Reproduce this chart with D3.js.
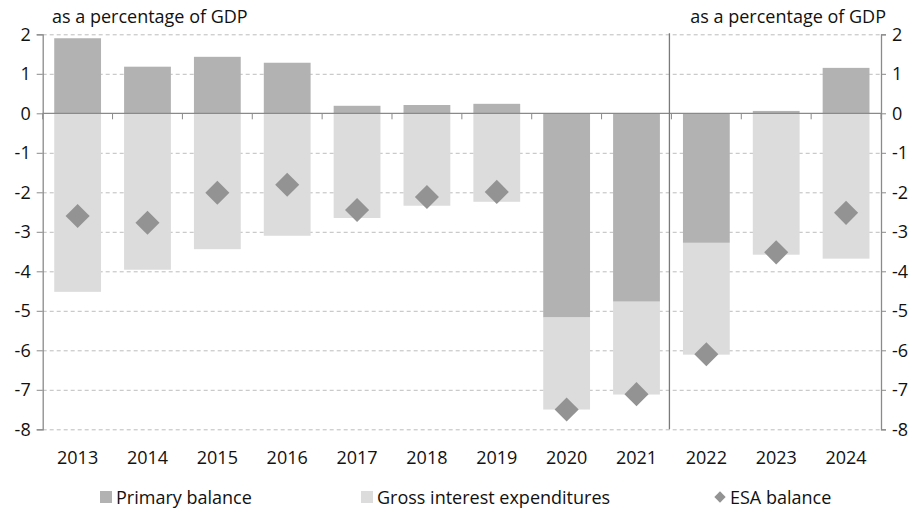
<!DOCTYPE html>
<html>
<head>
<meta charset="utf-8">
<script src="https://cdn.jsdelivr.net/npm/d3@7"></script>
<style>
  html, body { margin: 0; padding: 0; background: #fff; }
  svg { display: block; font-family: "Open Sans", sans-serif; }
</style>
</head>
<body>
<svg id="chart" width="918" height="513"></svg>
<script>
// Budget balance decomposition, % of GDP
const years = ["2013","2014","2015","2016","2017","2018","2019","2020","2021","2022","2023","2024"];
const primaryBalance = [1.90, 1.18, 1.43, 1.28, 0.19, 0.21, 0.24, -5.17, -4.77, -3.28, 0.06, 1.15];
const grossInterest = [-4.52, -3.96, -3.44, -3.10, -2.65, -2.34, -2.24, -2.33, -2.35, -2.83, -3.58, -3.68];
const esaBalance = [-2.60, -2.77, -2.01, -1.81, -2.45, -2.12, -1.99, -7.50, -7.11, -6.10, -3.52, -2.52];
const yTicks = [2, 1, 0, -1, -2, -3, -4, -5, -6, -7, -8];
const seriesNames = ["Primary balance", "Gross interest expenditures", "ESA balance"];
const unitLabel = "as a percentage of GDP";
const splitBefore = "2022";

const colors = { primary: "#b2b2b2", interest: "#dcdcdc", esa: "#939393", axis: "#8a8a8a", grid: "#bdbdbd", text: "#111111" };
const fontSize = "18px";

const svg = d3.select("#chart");
const plotLeft = 42.7, plotRight = 881, plotTop = 34.3, plotBottom = 429.3;

const x = d3.scaleBand().domain(years).range([plotLeft, plotRight]).paddingInner(0.33).paddingOuter(0.165);
const y = d3.scaleLinear().domain([-8, 2]).range([plotBottom, plotTop]);

const rows = years.map((yr, i) => ({ year: yr, primary: primaryBalance[i], interest: grossInterest[i], esa: esaBalance[i] }));
const stacked = d3.stack().keys(["primary", "interest"]).offset(d3.stackOffsetDiverging)(rows);

// dashed gridlines
svg.append("g").selectAll("line").data(yTicks.filter(t => t !== 0)).join("line")
  .attr("x1", plotLeft).attr("x2", plotRight)
  .attr("y1", d => y(d) + 0.5).attr("y2", d => y(d) + 0.5)
  .attr("stroke", colors.grid).attr("stroke-width", 1).attr("stroke-dasharray", "4,3");

// stacked bars
const fills = { primary: colors.primary, interest: colors.interest };
svg.append("g").selectAll("g").data(stacked).join("g")
  .attr("fill", d => fills[d.key])
  .selectAll("rect").data(d => d).join("rect")
  .attr("x", d => x(d.data.year))
  .attr("width", x.bandwidth())
  .attr("y", d => y(Math.max(d[0], d[1])))
  .attr("height", d => Math.abs(y(d[0]) - y(d[1])));

// zero line and category ticks
svg.append("line").attr("x1", plotLeft).attr("x2", plotRight).attr("y1", y(0)).attr("y2", y(0))
  .attr("stroke", colors.axis).attr("stroke-width", 1.3);
const step = x.step();
const boundaries = d3.range(years.length + 1).map(i => plotLeft + i * step);
svg.append("g").selectAll("line").data(boundaries).join("line")
  .attr("x1", d => d).attr("x2", d => d)
  .attr("y1", y(0)).attr("y2", y(0) + 6)
  .attr("stroke", colors.axis).attr("stroke-width", 1);

// divider between outturn and projection years
const splitX = x(splitBefore) - x.step() * x.paddingInner() / 2 - 2;
svg.append("line").attr("x1", splitX).attr("x2", splitX).attr("y1", plotTop - 1).attr("y2", plotBottom)
  .attr("stroke", "#7a7a7a").attr("stroke-width", 1.3);

// ESA balance diamonds
const diamond = d3.symbol().type(d3.symbolSquare).size(290);
svg.append("g").selectAll("path").data(rows).join("path")
  .attr("d", diamond)
  .attr("transform", d => `translate(${x(d.year) + x.bandwidth() / 2},${y(d.esa)}) rotate(45)`)
  .attr("fill", colors.esa);

// y axes
const fmt = d => d3.format("d")(d).replace("−", "-");
const leftAxis = d3.axisLeft(y).tickValues(yTicks).tickSize(6).tickPadding(6).tickFormat(fmt);
const rightAxis = d3.axisRight(y).tickValues(yTicks).tickSize(5).tickPadding(6).tickFormat(fmt);
[svg.append("g").attr("transform", `translate(${plotLeft},0)`).call(leftAxis),
 svg.append("g").attr("transform", `translate(${plotRight},0)`).call(rightAxis)].forEach(g => {
  g.select(".domain").attr("stroke", colors.axis).attr("stroke-width", 1.3);
  g.selectAll(".tick line").attr("stroke", colors.axis);
  g.selectAll(".tick text").attr("fill", colors.text).style("font-size", fontSize).style("font-family", "'Open Sans', sans-serif");
});

// year labels
svg.append("g").selectAll("text").data(years).join("text")
  .attr("x", d => x(d) + x.bandwidth() / 2)
  .attr("y", 463.5)
  .attr("text-anchor", "middle")
  .attr("fill", colors.text)
  .style("font-size", fontSize)
  .text(d => d);

// unit labels
svg.append("text").attr("x", 52).attr("y", 23).attr("fill", colors.text).style("font-size", fontSize).text(unitLabel);
svg.append("text").attr("x", 886).attr("y", 23).attr("text-anchor", "end").attr("fill", colors.text).style("font-size", fontSize).text(unitLabel);

// legend
const legend = svg.append("g");
const legendItems = [
  { name: seriesNames[0], color: colors.primary, shape: "square", x: 100 },
  { name: seriesNames[1], color: colors.interest, shape: "square", x: 361 },
  { name: seriesNames[2], color: colors.esa, shape: "diamond", x: 714 }
];
legendItems.forEach(it => {
  const g = legend.append("g").attr("transform", `translate(${it.x},497)`);
  if (it.shape === "square") {
    g.append("rect").attr("x", 0).attr("y", -6).attr("width", 12).attr("height", 12).attr("fill", it.color);
  } else {
    g.append("path").attr("d", d3.symbol().type(d3.symbolSquare).size(64)).attr("transform", "translate(6,0) rotate(45)").attr("fill", it.color);
  }
  g.append("text").attr("x", 16).attr("y", 6.5).attr("fill", colors.text).style("font-size", fontSize).text(it.name);
});
</script>
</body>
</html>
